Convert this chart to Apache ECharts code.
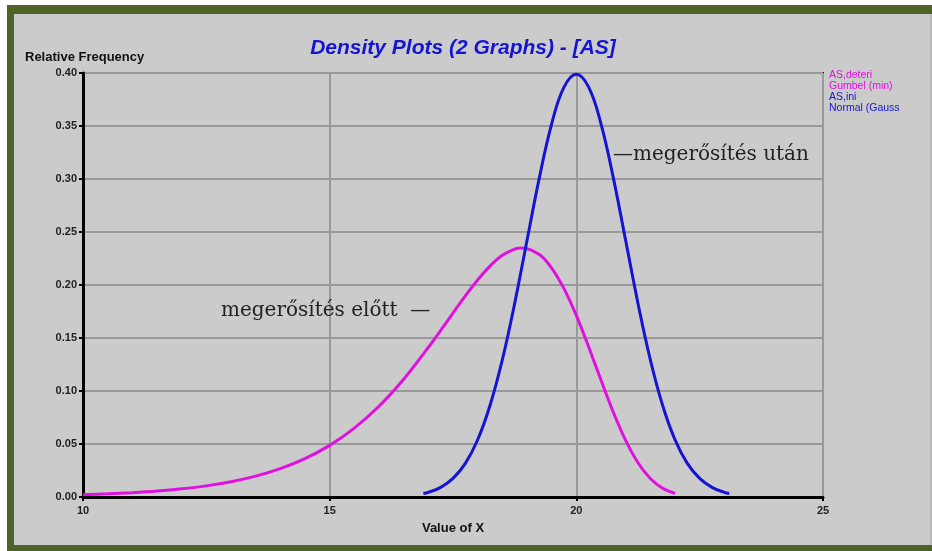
<!DOCTYPE html>
<html>
<head>
<meta charset="utf-8">
<script src="https://cdn.jsdelivr.net/npm/echarts@6/dist/echarts.min.js"></script>
<style>
  html, body { margin: 0; padding: 0; background: #fff; }
  #chart { width: 932px; height: 551px; }
</style>
</head>
<body>
<div id="chart"></div>
<script>
// Gumbel (min) curve - AS,deteri
const gumbelX = [10, 10.5, 11, 11.5, 12, 12.5, 13, 13.5, 14, 14.5, 15, 15.5, 16, 16.5, 17, 17.25, 17.5, 17.75, 18, 18.25, 18.5, 18.75, 18.9, 19.25, 19.5, 19.75, 20, 20.25, 20.5, 20.75, 21, 21.25, 21.5, 21.75, 22]
const gumbelY = [0.0022, 0.0030, 0.0041, 0.0056, 0.0077, 0.0105, 0.0144, 0.0197, 0.0268, 0.0362, 0.0487, 0.0650, 0.0856, 0.1111, 0.1411, 0.1571, 0.1735, 0.1897, 0.2047, 0.2178, 0.2280, 0.2339, 0.2350, 0.2287, 0.2160, 0.1966, 0.1713, 0.1416, 0.1103, 0.0800, 0.0534, 0.0323, 0.0174, 0.0082, 0.0033]
// Normal (Gauss) curve - AS,ini
const normalX = [16.9, 17, 17.25, 17.5, 17.75, 18, 18.25, 18.5, 18.75, 19, 19.25, 19.5, 19.75, 20, 20.25, 20.5, 20.75, 21, 21.25, 21.5, 21.75, 22, 22.25, 22.5, 22.75, 23, 23.1]
const normalY = [0.0033, 0.0044, 0.0091, 0.0175, 0.0317, 0.0540, 0.0863, 0.1295, 0.1826, 0.2420, 0.3011, 0.3521, 0.3867, 0.3989, 0.3867, 0.3521, 0.3011, 0.2420, 0.1826, 0.1295, 0.0863, 0.0540, 0.0317, 0.0175, 0.0091, 0.0044, 0.0033]
const legendLines = ['AS,deteri', 'Gumbel (min)', 'AS,ini', 'Normal (Gauss']
const legendColors = ['#e010e0', '#e010e0', '#1414d2', '#1414d2']

const pairs = (xs, ys) => xs.map((x, i) => [x, ys[i]])

const chart = echarts.init(document.getElementById('chart'))

const graphics = [
  // outer frame
  { type: 'rect', shape: { x: 0, y: 0, width: 932, height: 5 }, style: { fill: '#ffffff' }, z: 0 },
  { type: 'rect', shape: { x: 0, y: 0, width: 7, height: 551 }, style: { fill: '#ffffff' }, z: 0 },
  { type: 'rect', shape: { x: 7, y: 5, width: 925, height: 9 }, style: { fill: '#4f6228' }, z: 0 },
  { type: 'rect', shape: { x: 7, y: 5, width: 7, height: 546 }, style: { fill: '#4f6228' }, z: 0 },
  { type: 'rect', shape: { x: 7, y: 545, width: 925, height: 6 }, style: { fill: '#4f6228' }, z: 0 },
  { type: 'rect', shape: { x: 930, y: 14, width: 2, height: 531 }, style: { fill: '#b8b8b8' }, z: 0 },
  // axis name
  { type: 'text', left: 25, top: 51, style: { text: 'Relative Frequency', font: 'bold 13px "Liberation Sans", Arial', fill: '#111' }, z: 5 },
  // annotations
  { type: 'text', left: 613, top: 145, style: { text: '\u2014megerősítés után', font: '20px "DejaVu Serif", serif', fill: '#222' }, z: 5 },
  { type: 'text', left: 221, top: 301, style: { text: 'megerősítés előtt  \u2014', font: '20px "DejaVu Serif", serif', fill: '#222' }, z: 5 }
]
legendLines.forEach((t, i) => {
  graphics.push({
    type: 'text', left: 829, top: 70 + i * 11,
    style: { text: t, font: '10.5px "Liberation Sans", Arial', fill: legendColors[i] }, z: 5
  })
})

const option = {
  backgroundColor: '#cbcbcb',
  animation: false,
  title: {
    text: 'Density Plots (2 Graphs) - [AS]',
    left: 458,
    top: 33,
    textAlign: 'center',
    textStyle: { color: '#1414d2', fontSize: 21, fontWeight: 'bold', fontStyle: 'italic', fontFamily: '"Liberation Sans", Arial' }
  },
  grid: { left: 83, right: 109, top: 73, bottom: 54, show: true, borderColor: '#000', borderWidth: 2, backgroundColor: 'transparent' },
  xAxis: {
    type: 'value', min: 10, max: 25, interval: 5,
    name: 'Value of X', nameLocation: 'middle', nameGap: 25,
    nameTextStyle: { fontSize: 13, fontWeight: 'bold', color: '#111', fontFamily: '"Liberation Sans", Arial' },
    axisLine: { lineStyle: { color: '#000', width: 3 } },
    axisTick: { show: true, length: 4, lineStyle: { color: '#000', width: 2 } },
    axisLabel: { fontSize: 11, fontWeight: 'bold', color: '#222', margin: 8, fontFamily: '"Liberation Sans", Arial' },
    splitLine: { lineStyle: { color: '#999', width: 2 } }
  },
  yAxis: {
    type: 'value', min: 0, max: 0.4, interval: 0.05,
    axisLine: { show: true, lineStyle: { color: '#000', width: 3 } },
    axisTick: { show: true, length: 4, lineStyle: { color: '#000', width: 2 } },
    axisLabel: { fontSize: 11, fontWeight: 'bold', color: '#222', margin: 6, fontFamily: '"Liberation Sans", Arial', formatter: v => v.toFixed(2) },
    splitLine: { lineStyle: { color: '#999', width: 2 } }
  },
  graphic: graphics,
  series: [
    {
      name: 'AS,deteri Gumbel (min)', type: 'line', smooth: 0.3, showSymbol: false,
      data: pairs(gumbelX, gumbelY),
      lineStyle: { color: '#e010e0', width: 3 }, itemStyle: { color: '#e010e0' }
    },
    {
      name: 'AS,ini Normal (Gauss)', type: 'line', smooth: 0.4, showSymbol: false,
      data: pairs(normalX, normalY),
      lineStyle: { color: '#1414d2', width: 3 }, itemStyle: { color: '#1414d2' }
    }
  ]
}

chart.setOption(option)
window.addEventListener('resize', () => {
  chart.resize()
})
</script>
</body>
</html>
